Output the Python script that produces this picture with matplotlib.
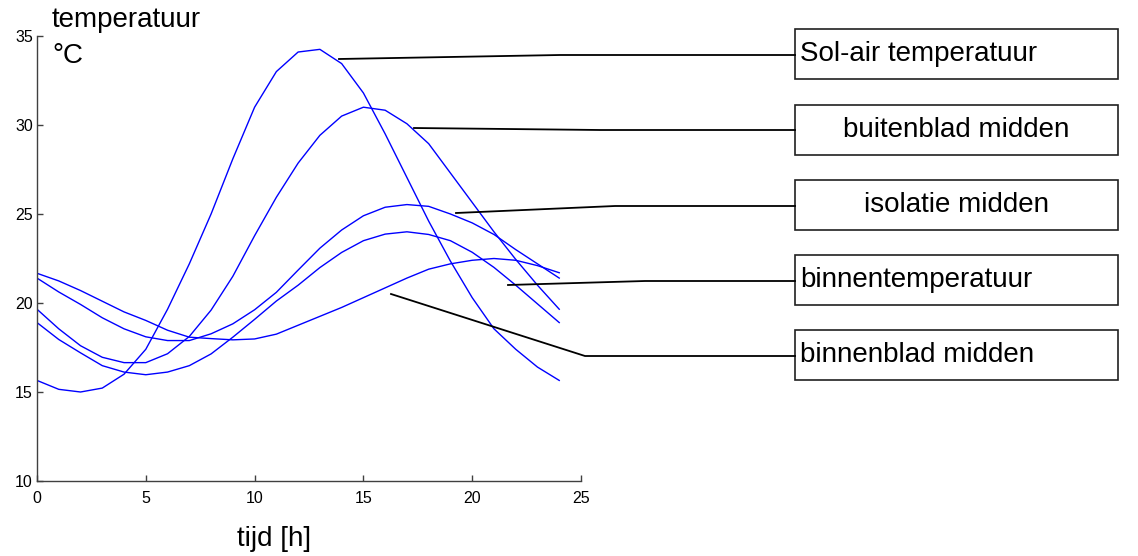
#temperatuurverloop over een dag in een spouwmuur
import matplotlib
matplotlib.use('Agg')
import matplotlib.pyplot as plt
from matplotlib.lines import Line2D
from matplotlib.patches import Rectangle

plt.rcParams['font.family'] = ['Liberation Sans', 'DejaVu Sans']

#tijd in uren
tijd = list(range(0, 25))

sol_air = [15.65, 15.15, 15.0, 15.22, 16.0, 17.4, 19.65, 22.2, 25.0, 28.1, 31.0, 33.0, 34.1,
           34.25, 33.45, 31.8, 29.5, 27.05, 24.6, 22.35, 20.3, 18.55, 17.4, 16.4, 15.65]
buitenblad = [19.65, 18.55, 17.6, 16.95, 16.65, 16.65, 17.15, 18.12, 19.6, 21.5, 23.78, 25.94, 27.86,
              29.42, 30.5, 31.0, 30.83, 30.07, 28.95, 27.3, 25.65, 24.0, 22.45, 21.0, 19.65]
isolatie = [21.4, 20.62, 19.92, 19.17, 18.55, 18.1, 17.89, 17.89, 18.27, 18.83, 19.62, 20.6, 21.85,
            23.08, 24.1, 24.9, 25.38, 25.53, 25.43, 25.0, 24.5, 23.85, 23.0, 22.2, 21.4]
binnenblad = [18.9, 17.95, 17.2, 16.48, 16.12, 15.97, 16.12, 16.48, 17.14, 18.08, 19.08, 20.11, 21.0,
              21.99, 22.84, 23.5, 23.87, 24.0, 23.85, 23.5, 22.85, 22.0, 21.0, 19.95, 18.9]
binnentemp = [21.67, 21.24, 20.7, 20.1, 19.5, 19.02, 18.47, 18.08, 18.0, 17.93, 17.98, 18.25, 18.75,
              19.25, 19.75, 20.3, 20.85, 21.4, 21.9, 22.2, 22.4, 22.5, 22.4, 22.1, 21.7]

series = [sol_air, buitenblad, isolatie, binnenblad, binnentemp]

#tekst in de kaders
labels = ['Sol-air temperatuur', 'buitenblad midden', 'isolatie midden',
          'binnentemperatuur', 'binnenblad midden']
uitlijning = ['left', 'center', 'center', 'left', 'left']

W, H = 1138, 556
fig = plt.figure(figsize=(W / 100, H / 100), dpi=100)

def fx(px):
    return px / W

def fy(py):
    return 1 - py / H

ax = fig.add_axes([fx(37), fy(481), fx(581) - fx(37), fy(36) - fy(481)])
for s in series:
    ax.plot(tijd, s, color='#0000ff', lw=1.0)

ax.set_xlim(0, 25)
ax.set_ylim(10, 35)
ax.set_xticks([0, 5, 10, 15, 20, 25])
ax.set_yticks([10, 15, 20, 25, 30, 35])
ax.spines['top'].set_visible(False)
ax.spines['right'].set_visible(False)
for sp in ['left', 'bottom']:
    ax.spines[sp].set_color('#404040')
    ax.spines[sp].set_linewidth(1.0)
ax.tick_params(direction='in', length=4.5, width=1.0, color='#404040', labelsize=11.5)
ax.tick_params(axis='x', pad=7)
ax.tick_params(axis='y', pad=3)

#as-titels als losse tekst
fig.text(fx(52), fy(27), 'temperatuur', fontsize=20, ha='left', va='baseline')
fig.text(fx(52), fy(63), '°C', fontsize=20, ha='left', va='baseline')
fig.text(fx(274), fy(546), 'tijd [h]', fontsize=20, ha='center', va='baseline')

#verbindingslijnen naar de kaders (pixels)
pijlen = [
    [(339, 59), (560, 55), (795, 55)],
    [(414, 128), (600, 130), (795, 130)],
    [(456, 213), (615, 206), (795, 206)],
    [(508, 285), (645, 281), (795, 281)],
    [(391, 294), (585, 356), (795, 356)],
]
for p in pijlen:
    fig.add_artist(Line2D([fx(a) for a, b in p], [fy(b) for a, b in p], color='k', lw=1.3))

#kaders
kader_top = [29, 105, 180, 255, 330]
for lab, al, top in zip(labels, uitlijning, kader_top):
    fig.add_artist(Rectangle((fx(795), fy(top + 50)), fx(1118) - fx(795), fy(top) - fy(top + 50),
                             transform=fig.transFigure, fill=False, ec='#202020', lw=1.2))
    if al == 'left':
        fig.text(fx(800), fy(top + 25), lab, fontsize=20, ha='left', va='center')
    else:
        fig.text(fx(956), fy(top + 25), lab, fontsize=20, ha='center', va='center')

plt.savefig('out.png', dpi=100)
